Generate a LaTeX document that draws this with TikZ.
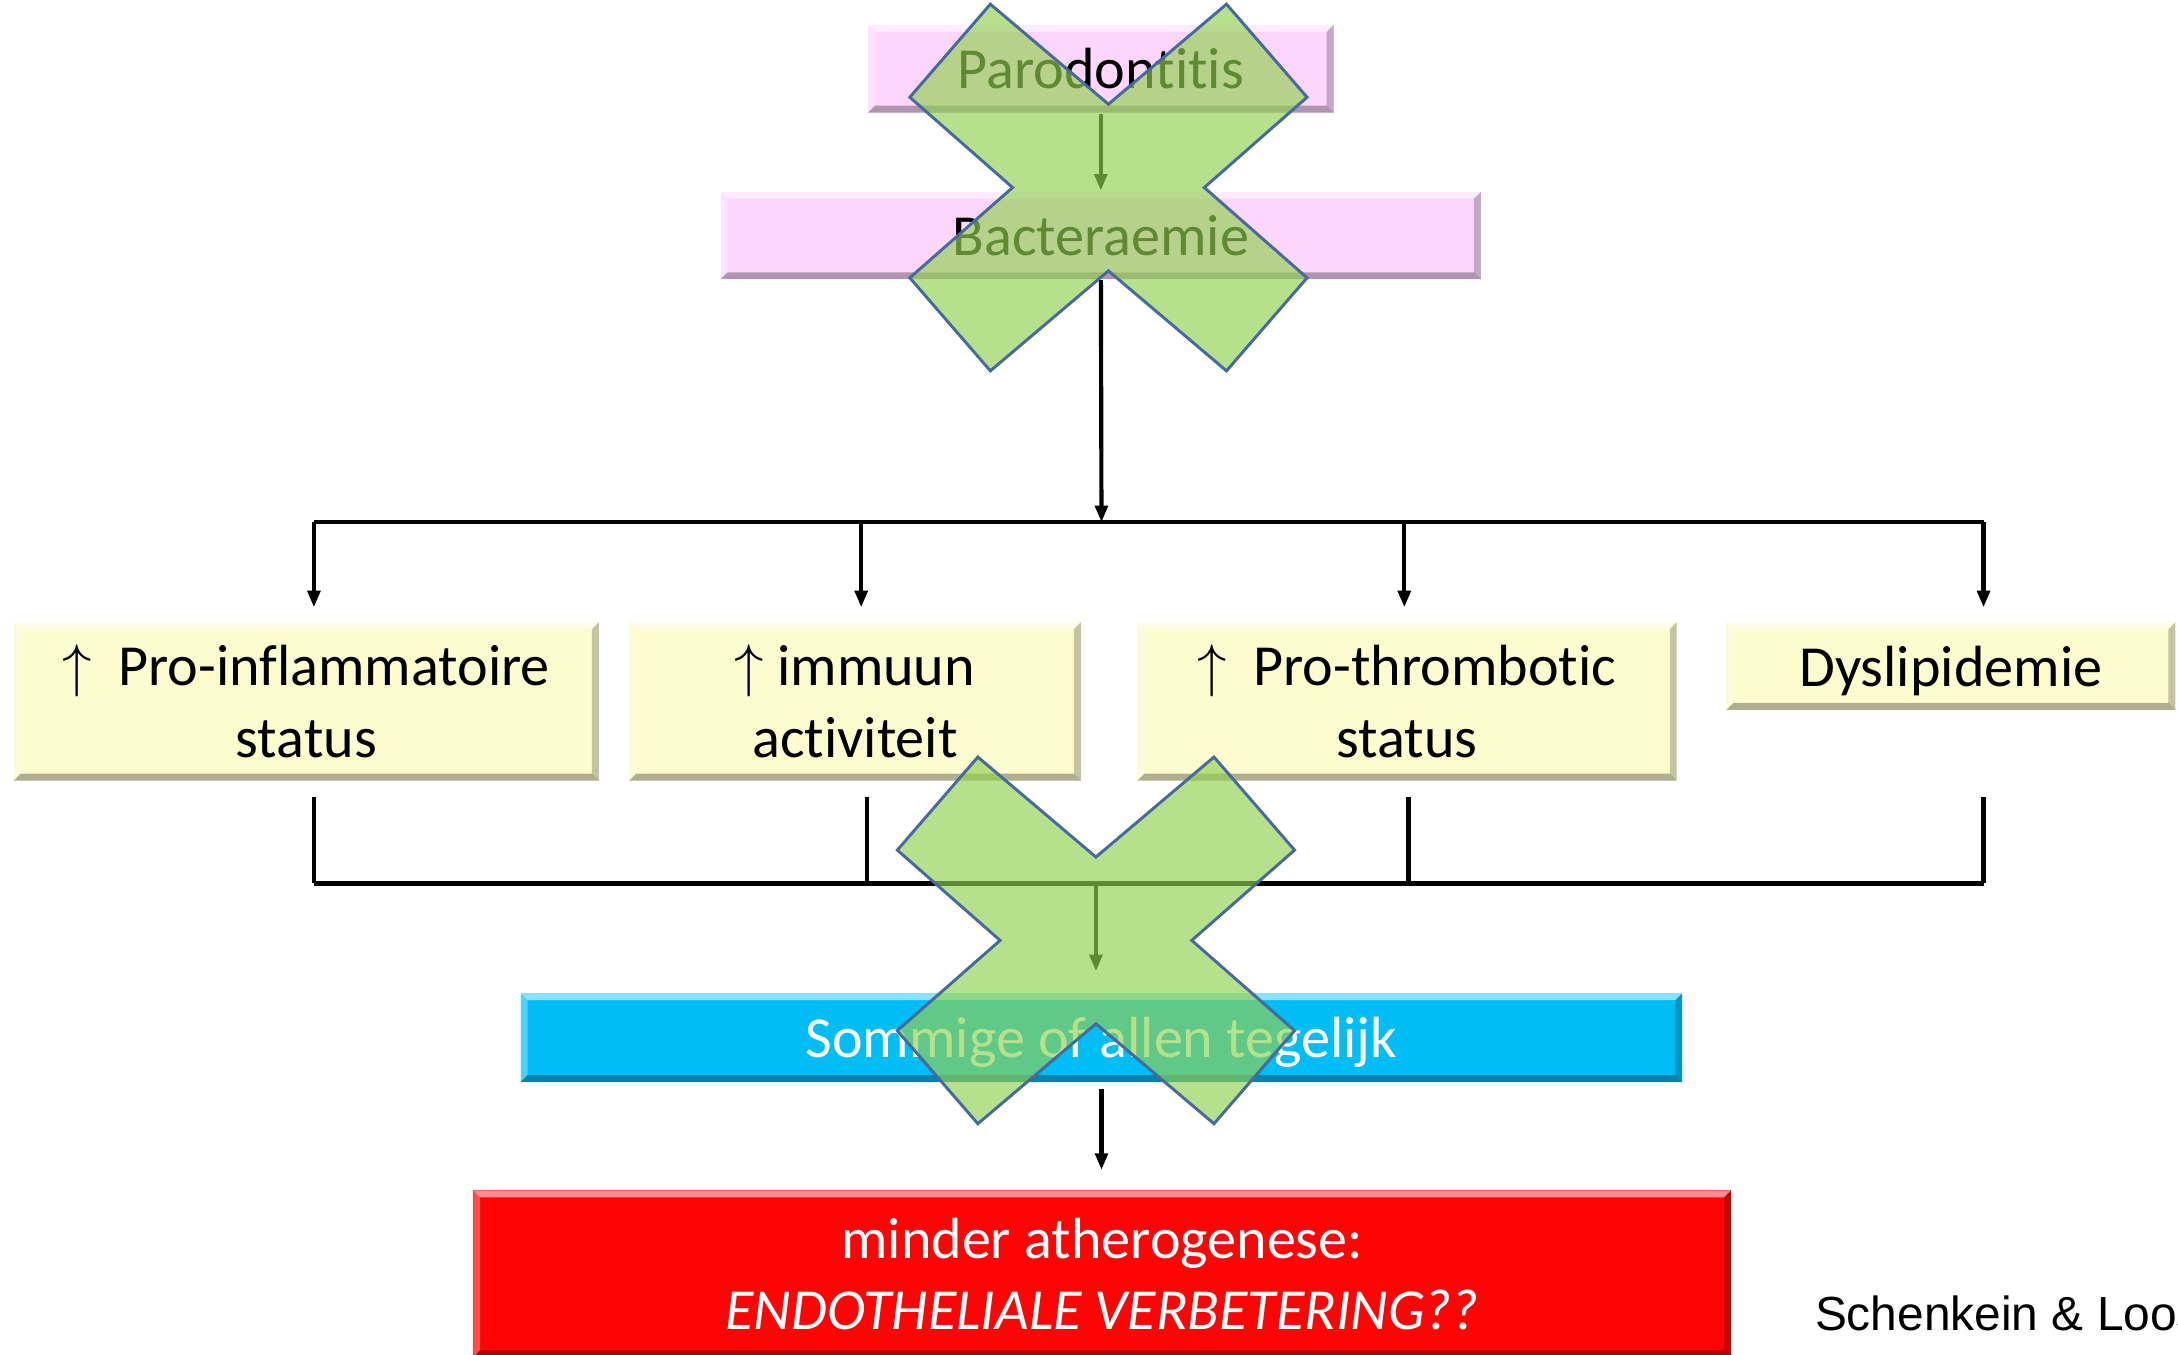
\documentclass[tikz,border=0pt]{standalone}
\usepackage{fontspec}
\setmainfont{Carlito}[Ligatures=NoCommon]
\newfontfamily\citefont{Liberation Sans}
\usepackage{tikz}
\usetikzlibrary{arrows.meta,calc,positioning}

\definecolor{boxpink}{RGB}{252,214,252}
\definecolor{boxyellow}{RGB}{252,252,206}
\definecolor{boxblue}{RGB}{0,190,245}
\definecolor{boxred}{RGB}{254,4,4}
\definecolor{crossgreen}{RGB}{146,208,80}
\definecolor{crossline}{RGB}{70,105,160}
\newcommand{\bevelw}{0.05cm}

\begin{document}
\begin{tikzpicture}[
    x=0.01cm, y=-0.01cm,
    font=\fontsize{11.9}{14.6}\selectfont,
    bevel/.style={rectangle, inner sep=0pt, align=center, path picture={
        \coordinate (nw) at (path picture bounding box.north west);
        \coordinate (ne) at (path picture bounding box.north east);
        \coordinate (sw) at (path picture bounding box.south west);
        \coordinate (se) at (path picture bounding box.south east);
        \fill[white, opacity=.55] (nw) -- (ne) -- ([shift={(-\bevelw,-\bevelw)}]ne) -- ([shift={(\bevelw,-\bevelw)}]nw) -- cycle;
        \fill[white, opacity=.3] (nw) -- (sw) -- ([shift={(\bevelw,\bevelw)}]sw) -- ([shift={(\bevelw,-\bevelw)}]nw) -- cycle;
        \fill[black, opacity=.3] (sw) -- (se) -- ([shift={(-\bevelw,\bevelw)}]se) -- ([shift={(\bevelw,\bevelw)}]sw) -- cycle;
        \fill[black, opacity=.22] (ne) -- (se) -- ([shift={(-\bevelw,\bevelw)}]se) -- ([shift={(-\bevelw,-\bevelw)}]ne) -- cycle;
    }},
    pinkbox/.style={bevel, fill=boxpink, minimum height=0.63cm},
    yellowbox/.style={bevel, fill=boxyellow, minimum height=1.14cm},
    bluebox/.style={bevel, fill=boxblue, text=white, minimum height=0.64cm},
    redbox/.style={bevel, fill=boxred, text=white, minimum height=1.2cm},
    conn/.style={line width=0.85pt},
    arrow/.style={conn, -{Triangle[length=0.12cm, width=0.09cm]}},
    xmark/.pic={
        \filldraw[fill=crossgreen, fill opacity=.66, draw=crossline, line width=0.6pt]
            (-85,-132) -- (0,-60) -- (85,-132) -- (143,-65) -- (69,0) -- (143,65)
            -- (85,132) -- (0,60) -- (-85,132) -- (-143,65) -- (-69,0) -- (-143,-65) -- cycle;
    }
]
\useasboundingbox (0,0) rectangle (1568,975);

% Cause
\node[pinkbox, minimum width=3.35cm] (paro) at (792.5,49.5) {Parodontitis};
\node[pinkbox, minimum width=5.47cm] (bact) at (792.5,169.5) {Bacteraemie};

% Effects
\node[yellowbox, minimum width=4.21cm] (infl) at (220.5,505) {$\uparrow$\ \ Pro-inflammatoire\\status};
\node[yellowbox, minimum width=3.25cm] (immuun) at (615.5,505) {$\uparrow$ immuun\\activiteit};
\node[yellowbox, minimum width=3.88cm] (thromb) at (1013,505) {$\uparrow$\ \ Pro-thrombotic\\status};
\node[yellowbox, minimum width=3.23cm, minimum height=0.63cm, text depth=0pt] (dys) at (1404.5,479.5) {Dyslipidemie};

% Outcome
\node[bluebox, minimum width=8.36cm, text depth=0pt] (samen) at (793,747) {Sommige of allen tegelijk};
\node[redbox, minimum width=9.05cm] (ather) at (793.5,917) {minder atherogenese:\\\textit{ENDOTHELIALE VERBETERING??}};

\node[anchor=base west, inner sep=0pt, font=\citefont\fontsize{9.8}{12}\selectfont] (cite) at (1306,958) {Schenkein \& Loos};

% Connections
\coordinate (hub) at (793,376);
\coordinate (join) at (789,636);
\draw[arrow] (paro) -- (bact);
\draw[arrow] (bact) -- (hub);
\foreach \n/\x in {infl/226, immuun/620, thromb/1011, dys/1428} {
    \coordinate (\n-in) at (\x,376);
    \draw[arrow, shorten >=0.1cm] (\n-in) -- (\n-in |- \n.north);
}
\draw[conn] (infl-in) -- (dys-in);
\foreach \n/\x/\s in {infl/226/0.11, immuun/624/0.11, thromb/1014/0.11, dys/1428/0.62} {
    \coordinate (\n-out) at (\x,636);
    \draw[conn, shorten <=\s cm] (\n-out |- \n.south) -- (\n-out);
}
\draw[conn] (infl-out) -- (dys-out);
\draw[arrow, shorten >=0.15cm] (join) -- (join |- samen.north);
\draw[arrow, shorten <=0.04cm, shorten >=0.14cm] (samen) -- (samen |- ather.north);

% Crossed out
\pic at (798,135) {xmark};
\pic at (789,677) {xmark};

\end{tikzpicture}
\end{document}
